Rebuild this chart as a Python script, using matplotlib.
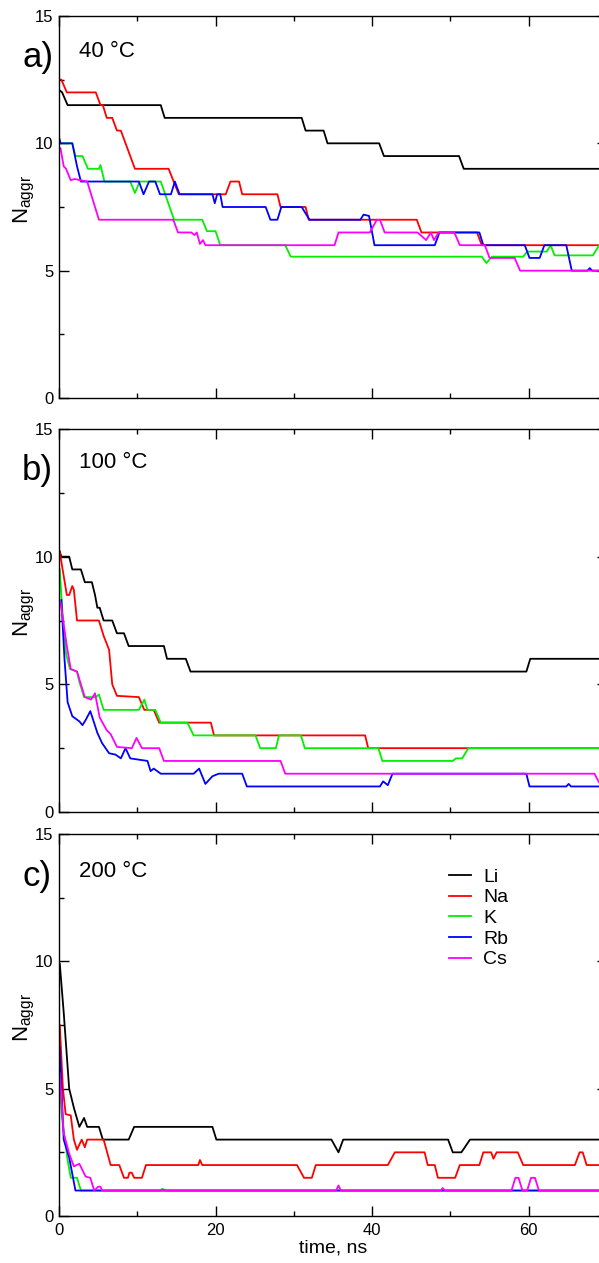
import numpy as np
import matplotlib
matplotlib.use("Agg")
import matplotlib.pyplot as plt
from matplotlib.ticker import MultipleLocator

plt.rcParams['font.family'] = ['Liberation Sans', 'DejaVu Sans']
plt.rcParams['mathtext.fontset'] = 'custom'
plt.rcParams['mathtext.rm'] = 'Liberation Sans'
plt.rcParams['mathtext.it'] = 'Liberation Sans'

ions = ["Li", "Na", "K", "Rb", "Cs"]
colors = ["#000000", "#ff0000", "#00f000", "#0000ff", "#ff00ff"]
temps = ["40 °C", "100 °C", "200 °C"]
panel_tags = ["a)", "b)", "c)"]

# (time in ns, N_aggr)

# 40 °C
li_40 = [(0, 12.1), (0.4, 12.0), (1.1, 11.5), (13.0, 11.5), (13.5, 11.0), (31.0, 11.0), (31.5, 10.5),
         (33.8, 10.5), (34.3, 10.0), (40.9, 10.0), (41.5, 9.5), (51.1, 9.5), (51.7, 9.0), (70, 9.0)]
na_40 = [(0, 12.5), (0.3, 12.5), (1.0, 12.0), (4.7, 12.0), (5.3, 11.5), (5.6, 11.5), (6.1, 11.0),
         (6.8, 11.0), (7.4, 10.5), (7.9, 10.5), (9.7, 9.0), (14.0, 9.0), (15.3, 8.0), (21.3, 8.0),
         (21.9, 8.5), (23.0, 8.5), (23.4, 8.0), (27.9, 8.0), (28.3, 7.5), (31.5, 7.5), (31.9, 7.0),
         (45.7, 7.0), (46.3, 6.5), (53.4, 6.5), (54.0, 6.0), (70, 6.0)]
k_40 = [(0, 10.0), (1.7, 10.0), (2.1, 9.5), (3.0, 9.5), (3.7, 9.0), (5.1, 9.0), (5.3, 9.15), (5.8, 8.5),
        (9.1, 8.5), (9.7, 8.05), (10.3, 8.5), (13.0, 8.5), (14.7, 7.0), (18.3, 7.0), (18.9, 6.55),
        (20.0, 6.55), (20.6, 6.0), (28.9, 6.0), (29.6, 5.55), (54.0, 5.55), (54.6, 5.3), (55.3, 5.55),
        (59.3, 5.55), (59.8, 5.75), (62.3, 5.75), (62.8, 6.0), (63.3, 5.6), (68.2, 5.6), (69.0, 6.0), (70, 6.0)]
rb_40 = [(0, 10.25), (0.2, 10.0), (1.7, 10.0), (2.3, 9.1), (2.8, 8.5), (10.2, 8.5), (10.8, 8.0),
         (11.5, 8.5), (12.3, 8.5), (12.9, 8.0), (14.3, 8.0), (14.8, 8.5), (15.4, 8.0), (19.6, 8.0),
         (19.9, 7.65), (20.2, 8.0), (20.6, 8.0), (20.9, 7.5), (26.4, 7.5), (27.0, 7.0), (27.9, 7.0),
         (28.4, 7.5), (31.0, 7.5), (32.0, 7.0), (38.5, 7.0), (38.9, 7.2), (39.6, 7.15), (40.3, 6.0),
         (48.0, 6.0), (48.6, 6.5), (53.7, 6.5), (54.2, 6.0), (59.5, 6.0), (60.1, 5.5), (61.4, 5.5),
         (62.0, 6.0), (64.8, 6.0), (65.5, 5.0), (67.5, 5.0), (67.8, 5.1), (68.1, 5.0), (70, 5.0)]
cs_40 = [(0, 9.85), (0.2, 9.8), (0.6, 9.1), (0.9, 9.0), (1.5, 8.55), (2.0, 8.6), (3.6, 8.5), (5.1, 7.0),
         (14.6, 7.0), (15.2, 6.5), (16.9, 6.5), (17.3, 6.4), (17.6, 6.5), (18.0, 6.05), (18.4, 6.2),
         (18.7, 6.0), (35.2, 6.0), (35.7, 6.5), (39.7, 6.5), (40.6, 7.0), (41.0, 7.0), (41.6, 6.5),
         (45.8, 6.5), (46.9, 6.2), (47.5, 6.5), (47.9, 6.2), (48.5, 6.5), (50.5, 6.5), (51.2, 6.0),
         (54.4, 6.0), (55.0, 5.5), (58.2, 5.5), (58.9, 5.0), (70, 5.0)]

# 100 °C
li_100 = [(0.1, 10.2), (0.3, 10.0), (1.3, 10.0), (1.7, 9.5), (2.8, 9.5), (3.3, 9.0), (4.2, 9.0),
          (4.6, 8.5), (4.9, 8.0), (5.2, 8.0), (5.7, 7.5), (6.8, 7.5), (7.4, 7.0), (8.3, 7.0), (8.9, 6.5),
          (13.4, 6.5), (13.8, 6.0), (16.2, 6.0), (16.8, 5.5), (59.7, 5.5), (60.2, 6.0), (70, 6.0)]
na_100 = [(0.1, 10.2), (0.3, 9.8), (1.0, 8.5), (1.3, 8.5), (1.7, 8.85), (1.9, 8.7), (2.3, 7.5),
          (5.1, 7.5), (5.7, 6.9), (6.4, 6.35), (6.8, 5.0), (7.4, 4.55), (10.2, 4.5), (10.9, 4.0),
          (12.1, 4.0), (12.8, 3.5), (19.4, 3.5), (19.8, 3.0), (39.1, 3.0), (39.5, 2.5), (70, 2.5)]
k_100 = [(0.1, 9.5), (0.4, 8.0), (0.9, 6.2), (1.4, 5.6), (2.3, 5.5), (2.6, 5.1), (3.2, 4.5),
         (4.7, 4.5), (5.1, 4.6), (5.7, 4.0), (10.2, 4.0), (10.9, 4.4), (11.3, 4.0), (12.3, 4.0),
         (13.0, 3.5), (16.4, 3.5), (17.2, 3.0), (25.1, 3.0), (25.7, 2.5), (27.7, 2.5), (28.1, 3.0),
         (30.9, 3.0), (31.4, 2.5), (40.8, 2.5), (41.3, 2.0), (50.3, 2.0), (50.7, 2.1), (51.5, 2.1),
         (52.3, 2.5), (70, 2.5)]
rb_100 = [(0.3, 8.3), (0.7, 6.0), (1.1, 4.3), (1.7, 3.75), (2.6, 3.55), (3.0, 3.4), (3.4, 3.6),
          (4.0, 3.95), (4.9, 3.1), (5.5, 2.7), (6.4, 2.3), (7.2, 2.25), (7.9, 2.1), (8.5, 2.5),
          (9.1, 2.1), (11.3, 2.0), (11.7, 1.6), (12.1, 1.7), (13.0, 1.5), (17.2, 1.5), (17.9, 1.7),
          (18.7, 1.1), (19.6, 1.4), (20.4, 1.5), (23.4, 1.5), (24.0, 1.0), (41.0, 1.0), (41.4, 1.2),
          (42.0, 1.05), (42.6, 1.5), (59.7, 1.5), (60.1, 1.0), (64.8, 1.0), (65.1, 1.1), (65.4, 1.0),
          (70, 1.0)]
cs_100 = [(0.2, 8.2), (1.0, 6.5), (1.5, 5.6), (2.3, 5.5), (3.3, 4.5), (4.1, 4.4), (4.6, 4.65),
          (5.2, 3.7), (6.1, 3.2), (6.6, 3.05), (7.4, 2.55), (9.3, 2.5), (9.9, 2.9), (10.6, 2.5),
          (12.8, 2.5), (13.4, 2.0), (28.3, 2.0), (28.9, 1.5), (68.4, 1.5), (69.0, 1.15), (70, 1.15)]

# 200 °C
li_200 = [(0.1, 9.9), (0.6, 8.0), (1.3, 5.0), (1.9, 4.25), (2.6, 3.5), (3.2, 3.85), (3.6, 3.5),
          (5.1, 3.5), (5.6, 3.0), (8.9, 3.0), (9.6, 3.5), (19.6, 3.5), (20.1, 3.0), (34.8, 3.0),
          (35.7, 2.5), (36.3, 3.0), (49.7, 3.0), (50.3, 2.5), (51.4, 2.5), (52.5, 3.0), (70, 3.0)]
na_200 = [(0.1, 7.5), (0.5, 5.0), (0.85, 4.0), (1.5, 3.95), (1.9, 3.0), (2.3, 2.6), (2.9, 3.0),
          (3.3, 2.7), (3.6, 3.0), (5.7, 3.0), (6.6, 2.0), (7.7, 2.0), (8.3, 1.5), (8.8, 1.5),
          (9.0, 1.7), (9.3, 1.7), (9.6, 1.5), (10.6, 1.5), (11.1, 2.0), (17.8, 2.0), (18.0, 2.2),
          (18.3, 2.0), (30.4, 2.0), (31.3, 1.5), (32.3, 1.5), (32.8, 2.0), (42.0, 2.0), (42.9, 2.5),
          (46.7, 2.5), (47.1, 2.0), (48.0, 2.0), (48.4, 1.5), (50.6, 1.5), (51.2, 2.0), (53.7, 2.0),
          (54.2, 2.5), (55.2, 2.5), (55.5, 2.25), (55.9, 2.5), (58.6, 2.5), (59.3, 2.0), (65.9, 2.0),
          (66.5, 2.5), (66.9, 2.5), (67.4, 2.0), (70, 2.0)]
k_200 = [(0.1, 5.0), (0.4, 3.8), (1.1, 2.2), (1.5, 1.5), (2.3, 1.5), (2.8, 1.0), (13.0, 1.0),
         (13.2, 1.07), (13.6, 1.0), (70, 1.0)]
rb_200 = [(0.1, 6.6), (0.6, 3.0), (1.3, 2.3), (2.1, 1.0), (70, 1.0)]
cs_200 = [(0.1, 5.6), (0.6, 3.25), (1.3, 2.45), (1.9, 1.95), (2.6, 2.05), (3.4, 1.55), (4.0, 1.5),
          (4.5, 1.0), (5.0, 1.15), (5.3, 1.15), (5.5, 1.0), (35.4, 1.0), (35.7, 1.2), (36.0, 1.0),
          (48.8, 1.0), (49.0, 1.1), (49.3, 1.0), (57.8, 1.0), (58.3, 1.5), (58.7, 1.5), (59.2, 1.0),
          (59.8, 1.0), (60.3, 1.5), (60.8, 1.5), (61.3, 1.0), (70, 1.0)]

panels = [[li_40, na_40, k_40, rb_40, cs_40],
          [li_100, na_100, k_100, rb_100, cs_100],
          [li_200, na_200, k_200, rb_200, cs_200]]

fig = plt.figure(figsize=(5.99, 12.63), dpi=100)
W, H = 599, 1263
# axes boxes in pixels: top, bottom (left 59, right 607 -> right spine just outside the image)
boxes = [(16, 398), (429, 812), (834, 1216)]
tag_y = [0.867, 0.867, 0.864]
temp_y = [0.893, 0.897, 0.888]

axes = []
for i, (top, bot) in enumerate(boxes):
    ax = fig.add_axes([59 / W, 1 - bot / H, (607 - 59) / W, (bot - top) / H])
    for series, c, name in zip(panels[i], colors, ions):
        t, n = np.array(series).T
        ax.plot(t, n, color=c, lw=1.3, label=name)
    ax.set_xlim(0, 70)
    ax.set_ylim(0, 15)
    ax.xaxis.set_major_locator(MultipleLocator(20))
    ax.xaxis.set_minor_locator(MultipleLocator(10))
    ax.yaxis.set_major_locator(MultipleLocator(5))
    ax.yaxis.set_minor_locator(MultipleLocator(2.5))
    ax.tick_params(which='both', direction='in', top=True, right=True, labelsize=12, width=1)
    ax.tick_params(which='major', length=7)
    ax.tick_params(which='minor', length=3.5)
    ax.tick_params(axis='y', pad=4)
    ax.tick_params(axis='x', pad=5)
    for sp in ax.spines.values():
        sp.set_linewidth(1.0)
    ax.set_ylabel(r'N$_{\mathrm{aggr}}$', fontsize=16)
    ax.yaxis.set_label_coords(-0.04, 0.52)
    ax.text(-0.0675, tag_y[i], panel_tags[i], transform=ax.transAxes, fontsize=25,
            ha='left', va='baseline')
    ax.text(0.0365, temp_y[i], temps[i], transform=ax.transAxes, fontsize=16,
            ha='left', va='baseline')
    if i < 2:
        ax.tick_params(labelbottom=False)
    axes.append(ax)

axes[2].set_xlabel("time, ns", fontsize=14, labelpad=1)
axes[2].legend(loc='upper left', bbox_to_anchor=(0.7117, 0.911), frameon=False, fontsize=14,
               handlelength=1.13, handletextpad=0.62, labelspacing=0.16, borderpad=0,
               borderaxespad=0)

fig.savefig("out.png", dpi=100)
